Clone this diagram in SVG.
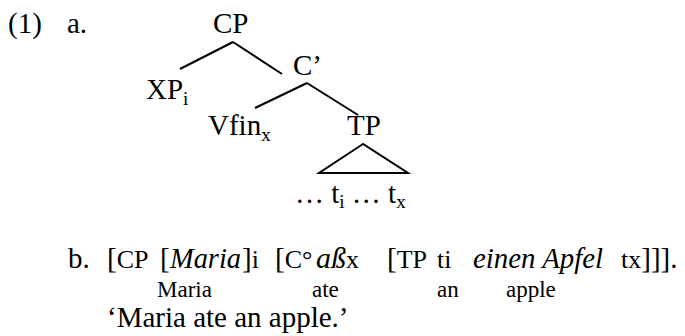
<svg xmlns="http://www.w3.org/2000/svg" width="685" height="336" viewBox="0 0 685 336">
<style>
text{font-family:"Liberation Serif","Times New Roman",serif;fill:#000}
.t{font-size:29px}
.s{font-size:26px}
.sub{font-size:19px}
.g{font-size:23px}
.it{font-style:italic}
.e{stroke:#000;stroke-width:2;fill:none}
</style>
<rect width="685" height="336" fill="#fff"/>
<g id="label-1a">
<text class="t" x="8" y="33">(1)</text>
<text class="t" x="67" y="33">a.</text>
</g>
<g id="connectors">
<line class="e" x1="233" y1="42" x2="180" y2="69"/>
<line class="e" x1="233" y1="42" x2="282" y2="74"/>
<line class="e" x1="307" y1="83" x2="255" y2="108"/>
<line class="e" x1="307" y1="83" x2="358" y2="115"/>
<polygon class="e" points="363,144 319,173 408,173"/>
</g>
<g id="node-CP"><text class="t" x="213" y="33">CP</text></g>
<g id="node-Cbar"><text class="t" x="293" y="75">C’</text></g>
<g id="node-XP"><text class="t" x="146" y="99">XP<tspan class="sub" dy="6">i</tspan></text></g>
<g id="node-Vfin"><text class="t" x="208" y="135">Vfin<tspan class="sub" dy="6">x</tspan></text></g>
<g id="node-TP"><text class="t" x="347" y="135">TP</text></g>
<g id="node-terminal"><text class="t" x="295" y="203">… t<tspan class="sub" dy="5">i</tspan><tspan dy="-5"> … t</tspan><tspan class="sub" dy="5">x</tspan></text></g>
<g id="example-b">
<text class="t" x="68" y="268">b.</text>
<text class="t" x="107" y="268">[<tspan class="s">CP</tspan></text>
<text class="t" x="160" y="268">[</text>
<text class="t it" x="170" y="268" textLength="71" lengthAdjust="spacingAndGlyphs">Maria</text>
<text class="t" x="242" y="268">]<tspan class="s">i</tspan></text>
<text class="t" x="275" y="268">[<tspan class="s">C°</tspan></text>
<text class="t it" x="316" y="268" textLength="30" lengthAdjust="spacingAndGlyphs">aß</text>
<text class="s" x="346" y="268">x</text>
<text class="t" x="387" y="268">[<tspan class="s">TP</tspan></text>
<text class="s" x="437" y="268">ti</text>
<text class="t it" x="473" y="268" textLength="130" lengthAdjust="spacingAndGlyphs">einen Apfel</text>
<text class="t" x="621" y="268"><tspan class="s">tx</tspan>]]].</text>
<text class="g" x="157" y="297">Maria</text>
<text class="g" x="312" y="297">ate</text>
<text class="g" x="437" y="297">an</text>
<text class="g" x="506" y="297">apple</text>
<text class="t" x="107" y="327">‘Maria ate an apple.’</text>
</g>
</svg>
